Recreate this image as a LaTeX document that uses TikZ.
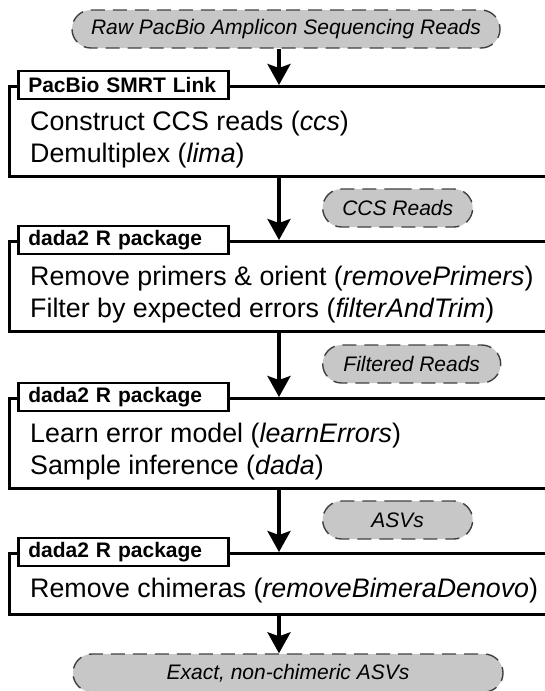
\documentclass[tikz,border=0pt]{standalone}
\usepackage{fontspec}
\setmainfont{Liberation Sans}
\usetikzlibrary{arrows.meta,positioning,shapes.misc}

\begin{document}
\begin{tikzpicture}[x=1pt, y=-1pt,
    data/.style={rounded rectangle, draw=black!75, fill=black!22, dash pattern=on 14pt off 8pt, line width=1.4pt, minimum height=38pt, inner xsep=0pt, font=\fontsize{21}{25}\selectfont\itshape},
    stage/.style={draw, line width=2.5pt, minimum width=560pt, minimum height=90pt, anchor=north west},
    tool/.style={draw, fill=white, line width=2.5pt, anchor=west, text width=190pt, inner xsep=10pt, minimum height=28pt, font=\fontsize{21}{25}\selectfont\bfseries},
    task/.style={anchor=base west, inner sep=0pt, font=\fontsize{26.8}{32}\selectfont},
    flow/.style={line width=3.5pt, -{Stealth[length=21pt, width=23pt, inset=4pt]}}]
  \useasboundingbox (0,0) rectangle (544,691);
  \coordinate (ax) at (279,0);

  \node[data, minimum width=428pt] (raw) at (286,29) {Raw PacBio Amplicon Sequencing Reads};

  \node[stage] (b1) at (8,85) {};
  \node[tool] (t1) at ([xshift=9pt]b1.north west) {PacBio SMRT Link};
  \node[task] (s11) at ([shift={(22,45)}]b1.north west) {Construct CCS reads (\textit{ccs})};
  \node[task] (s12) at ([shift={(22,77)}]b1.north west) {Demultiplex (\textit{lima})};

  \node[data, minimum width=150pt, anchor=west] (ccs) at (322,208) {CCS Reads};

  \node[stage] (b2) at (8,240) {};
  \node[tool] (t2) at ([xshift=9pt]b2.north west) {dada2 R package};
  \node[task] (s21) at ([shift={(22,45)}]b2.north west) {Remove primers \& orient (\textit{removePrimers})};
  \node[task] (s22) at ([shift={(22,77)}]b2.north west) {Filter by expected errors (\textit{filterAndTrim})};

  \node[data, minimum width=178pt, anchor=west] (filt) at (322,364) {Filtered Reads};

  \node[stage] (b3) at (8,397) {};
  \node[tool] (t3) at ([xshift=9pt]b3.north west) {dada2 R package};
  \node[task] (s31) at ([shift={(22,45)}]b3.north west) {Learn error model (\textit{learnErrors})};
  \node[task] (s32) at ([shift={(22,77)}]b3.north west) {Sample inference (\textit{dada})};

  \node[data, minimum width=150pt, anchor=west] (asv) at (322,520) {ASVs};

  \node[stage, minimum height=61pt] (b4) at (8,552) {};
  \node[tool] (t4) at ([xshift=9pt]b4.north west) {dada2 R package};
  \node[task] (s41) at ([shift={(22,45)}]b4.north west) {Remove chimeras (\textit{removeBimeraDenovo})};

  \node[data, minimum width=430pt] (out) at (288,673) {Exact, non-chimeric ASVs};

  \draw[flow] (raw.south -| ax) -- (b1.north -| ax);
  \draw[flow] (b1.south -| ax) -- (b2.north -| ax);
  \draw[flow] (b2.south -| ax) -- (b3.north -| ax);
  \draw[flow] (b3.south -| ax) -- (b4.north -| ax);
  \draw[flow] (b4.south -| ax) -- (out.north -| ax);
\end{tikzpicture}
\end{document}
